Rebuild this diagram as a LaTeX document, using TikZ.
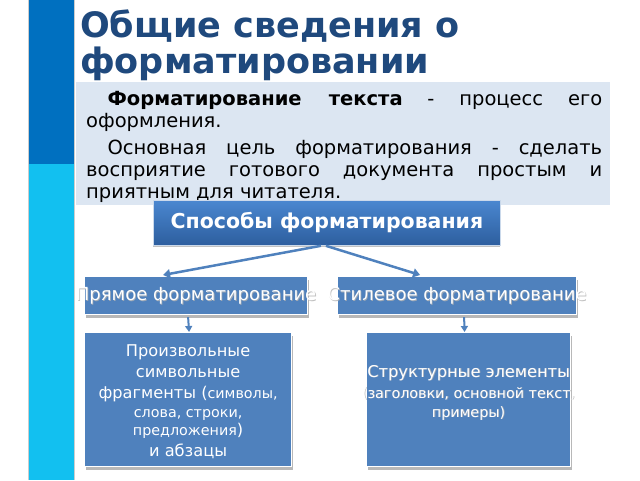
\documentclass[tikz,border=0pt]{standalone}
\usepackage{fontspec}
\setmainfont{DejaVu Sans}
\usetikzlibrary{arrows.meta,shadows}
\definecolor{titleblue}{HTML}{1F497D}
\definecolor{bardark}{HTML}{0070C0}
\definecolor{barlight}{HTML}{12C0F0}
\definecolor{introbg}{HTML}{DCE6F2}
\definecolor{boxblue}{HTML}{4F81BD}
\definecolor{headtop}{HTML}{4A87D0}
\definecolor{headbot}{HTML}{2D5E9E}
\newcommand\bigf{\fontsize{16.2}{21}\selectfont}
\newcommand\smallf{\fontsize{14.3}{18}\selectfont}
\tikzset{
  bluebox/.style={fill=boxblue, draw=white, line width=1.2pt, anchor=north west, inner sep=0pt,
    drop shadow={shadow xshift=1pt, shadow yshift=-3pt, fill=black!35, opacity=0.8}},
  boxtext/.style={text=white, align=center, inner sep=0pt},
  textshade/.style={text=black!30, align=center, inner sep=0pt, opacity=0.8},
  conn/.style={draw=boxblue, line width=2.5pt, -{Triangle[width=9pt,length=7pt]}},
  smallconn/.style={draw=boxblue, line width=2pt, -{Triangle[width=7pt,length=6pt]}},
}
\begin{document}
\begin{tikzpicture}[x=1pt,y=-1pt]
\useasboundingbox (0,0) rectangle (640,480);
% left bar
\fill[bardark] (28,0) rectangle (74,164);
\fill[barlight] (28,164) rectangle (74,480);
\draw[black!20, line width=0.6pt] (28,0) -- (28,480) (74,0) -- (74,480);
% title
\node[anchor=north west, inner sep=0pt, align=left, text=titleblue,
  font=\fontsize{35}{35.5}\selectfont\bfseries] (title) at (80,10)
  {Общие сведения о\\форматировании};
% intro box
\node[fill=introbg, anchor=north west, minimum width=534, minimum height=123, inner sep=0pt] (intro) at (76,82) {};
\node[anchor=north west, inner sep=0pt, text width=516, align=justify,
  font=\fontsize{19.5}{22}\selectfont] (introtext) at (86,91)
  {\hspace*{1.1em}\textbf{Форматирование текста} - процесс его оформления.\par
   \vspace{5pt}\hspace*{1.1em}Основная цель форматирования - сделать восприятие готового документа простым и приятным для читателя.};
% header
\node[anchor=north west, minimum width=347, minimum height=45, inner sep=0pt,
  top color=headtop, bottom color=headbot, draw=white!70!boxblue, line width=0.8pt,
  drop shadow={shadow xshift=0pt, shadow yshift=-2pt, fill=black!40, opacity=0.6},
  text=white, font=\fontsize{20.5}{24}\selectfont\bfseries] (head) at (153,200) {Способы форматирования};
% second level
\node[bluebox, minimum width=223, minimum height=38] (direct) at (84,276) {};
\node[textshade, font=\fontsize{18}{20}\selectfont] (directshade) at ([xshift=0.8pt,yshift=-0.8pt]direct.center) {Прямое форматирование};
\node[boxtext, font=\fontsize{18}{20}\selectfont] (directtext) at (direct.center) {Прямое форматирование};
\node[bluebox, minimum width=239, minimum height=38] (style) at (337,276) {};
\node[textshade, font=\fontsize{18}{20}\selectfont] (styleshade) at ([xshift=0.8pt,yshift=-0.8pt]style.center) {Стилевое форматирование};
\node[boxtext, font=\fontsize{18}{20}\selectfont] (styletext) at (style.center) {Стилевое форматирование};
% third level
\node[bluebox, minimum width=207, minimum height=134] (free) at (84,332) {};
\node[boxtext, font=\bigf] (freetext) at ([yshift=-2pt]free.center)
  {Произвольные\\символьные\\фрагменты ({\smallf символы,}\\[-2pt]{\smallf слова, строки,}\\[-3pt]{\smallf предложения})\\и абзацы};
\node[bluebox, minimum width=204, minimum height=134] (struct) at (366,332) {};
\node[textshade, font=\bigf] (structshade) at ([xshift=0.8pt,yshift=6.2pt]struct.center)
  {Структурные элементы\\{\smallf (заголовки, основной текст,}\\[-2pt]{\smallf примеры)}};
\node[boxtext, font=\bigf] (structtext) at ([yshift=7pt]struct.center)
  {Структурные элементы\\{\smallf (заголовки, основной текст,}\\[-2pt]{\smallf примеры)}};
% connectors
\coordinate (hl) at ([xshift=-6pt]head.south);
\coordinate (hr) at ([xshift=-1pt]head.south);
\draw[conn] (hl) -- ([xshift=-33pt,yshift=1pt]direct.north);
\draw[conn] (hr) -- ([xshift=-37pt,yshift=1pt]style.north);
\draw[smallconn] ([xshift=-8pt,yshift=-2pt]direct.south) -- ([xshift=1pt]free.north);
\draw[smallconn] ([xshift=7pt,yshift=-2pt]style.south) -- ([xshift=-4pt]struct.north);
\end{tikzpicture}
\end{document}
